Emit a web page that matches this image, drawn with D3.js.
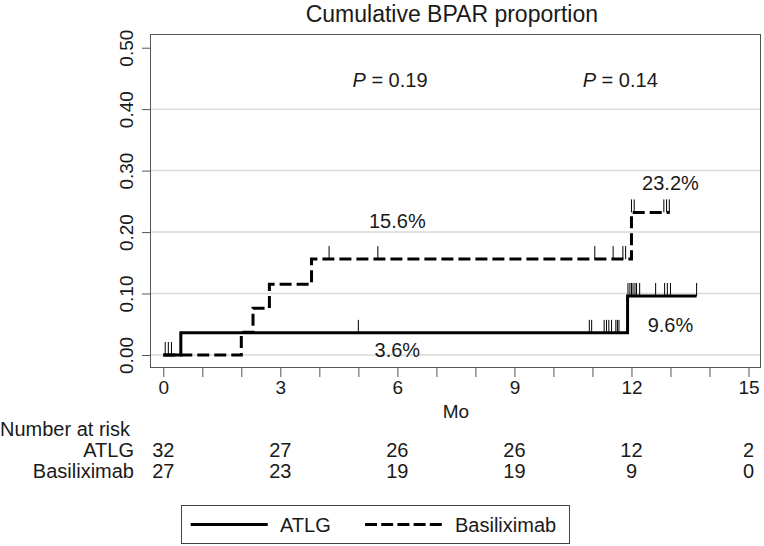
<!DOCTYPE html>
<html>
<head>
<meta charset="utf-8">
<script src="https://cdnjs.cloudflare.com/ajax/libs/d3/7.8.5/d3.min.js"></script>
<style>
body { margin: 0; background: #fff; }
svg text { font-family: "Liberation Sans", Arial, sans-serif; fill: #1a1a1a; }
</style>
</head>
<body>
<div id="chart"></div>
<script>
'use strict'

//Step curves (months, cumulative proportion)
var atlgTimes = [0, 0.45, 11.9, 13.67];
var atlgValues = [0, 0.036, 0.096, 0.096];
var basiTimes = [0, 2.0, 2.3, 2.72, 3.8, 12.0, 12.98];
var basiValues = [0, 0.037, 0.076, 0.115, 0.156, 0.232, 0.232];

//Censoring times (months)
var atlgCensored = [0.05, 0.13, 0.21, 5.0, 10.92, 10.98, 11.3, 11.36, 11.42, 11.49, 11.6, 11.64, 11.68,
    11.91, 11.96, 12.0, 12.04, 12.09, 12.13, 12.21, 12.62, 12.85, 12.92, 13.0, 13.67];
var basiCensored = [4.25, 5.5, 11.06, 11.53, 11.78, 11.85, 12.0, 12.07, 12.83, 12.9, 12.97];

var yTicks = [0, 0.1, 0.2, 0.3, 0.4, 0.5];
var xTicks = d3.range(0, 16);
var xLabelTicks = [0, 3, 6, 9, 12, 15];

//Number at risk table
var riskTimes = [0, 3, 6, 9, 12, 15];
var atlgAtRisk = [32, 27, 26, 26, 12, 2];
var basiAtRisk = [27, 23, 19, 19, 9, 0];

var groupNames = ["ATLG", "Basiliximab"];
var pValues = ["0.19", "0.14"];
var endLabels = ["3.6%", "15.6%", "9.6%", "23.2%"];

var width = 764, height = 546;

var svg = d3.select("#chart").append("svg")
    .attr("width", width)
    .attr("height", height);

var x = d3.scaleLinear().domain([-0.34, 15.32]).range([150, 761]);
var y = d3.scaleLinear().domain([-0.0212, 0.5223]).range([368, 34]);

//value of a step curve at time t
function stepValue(times, values, t) {
    var i = d3.bisectRight(times, t) - 1;
    return values[Math.max(i, 0)];
}

//grid lines
svg.append("g")
    .selectAll("line")
    .data(yTicks.slice(0, 5))
    .enter()
    .append("line")
    .attr("x1", x.range()[0])
    .attr("x2", x.range()[1])
    .attr("y1", function(d) { return y(d); })
    .attr("y2", function(d) { return y(d); })
    .attr("stroke", "#d9d9d9")
    .attr("stroke-width", 1.5);

//plot frame
svg.append("rect")
    .attr("x", 150.5)
    .attr("y", 34.5)
    .attr("width", 610)
    .attr("height", 333)
    .attr("fill", "none")
    .attr("stroke", "#555")
    .attr("stroke-width", 1);

//x axis
var xAxis = svg.append("g")
    .attr("transform", "translate(0,368)")
    .call(d3.axisBottom(x)
        .tickValues(xTicks)
        .tickSize(9)
        .tickSizeOuter(0)
        .tickPadding(4)
        .tickFormat(function(d) { return xLabelTicks.indexOf(d) >= 0 ? d : ""; }));
xAxis.select(".domain").remove();
xAxis.selectAll("line").attr("stroke", "#555");
xAxis.selectAll("text").attr("font-size", "19px").attr("font-family", null);

//y axis, rotated labels
var yAxis = svg.append("g")
    .attr("transform", "translate(150,0)")
    .call(d3.axisLeft(y)
        .tickValues(yTicks)
        .tickSize(8)
        .tickSizeOuter(0)
        .tickFormat(d3.format(".2f")));
yAxis.select(".domain").remove();
yAxis.selectAll("line").attr("stroke", "#555");
yAxis.selectAll("text")
    .attr("font-size", "19px")
    .attr("font-family", null)
    .attr("x", 0)
    .attr("y", -17)
    .attr("dy", 0)
    .attr("text-anchor", "middle")
    .attr("transform", "rotate(-90)");

//title and axis title
svg.append("text")
    .attr("x", 598)
    .attr("y", 22)
    .attr("text-anchor", "end")
    .attr("font-size", "23px")
    .text("Cumulative BPAR proportion");

svg.append("text")
    .attr("x", 456)
    .attr("y", 418)
    .attr("text-anchor", "middle")
    .attr("font-size", "19px")
    .text("Mo");

var stepLine = d3.line()
    .x(function(d) { return x(d[0]); })
    .y(function(d) { return y(d[1]); })
    .curve(d3.curveStepAfter);

//draw one group: step curve plus censor marks
function addCurve(times, values, censored, dash) {
    var g = svg.append("g");
    g.append("path")
        .datum(d3.zip(times, values))
        .attr("d", stepLine)
        .attr("fill", "none")
        .attr("stroke", "#000")
        .attr("stroke-width", 3)
        .attr("stroke-dasharray", dash);

    g.selectAll("line")
        .data(censored)
        .enter()
        .append("line")
        .attr("x1", function(d) { return x(d); })
        .attr("x2", function(d) { return x(d); })
        .attr("y1", function(d) { return y(stepValue(times, values, d)); })
        .attr("y2", function(d) { return y(stepValue(times, values, d)) - 13; })
        .attr("stroke", "#000")
        .attr("stroke-width", 1);
}

addCurve(basiTimes, basiValues, basiCensored, "12,5");
addCurve(atlgTimes, atlgValues, atlgCensored, null);

//P values
[[4.85, pValues[0]], [10.75, pValues[1]]].forEach(function(p) {
    var t = svg.append("text")
        .attr("x", x(p[0]))
        .attr("y", y(0.4355))
        .attr("font-size", "20px");
    t.append("tspan").attr("font-style", "italic").text("P");
    t.append("tspan").text(" = " + p[1]);
});

//end-of-curve percentages
var endPos = [[6, -0.0033], [6, 0.2066], [13, 0.0379], [13, 0.2685]];
svg.append("g")
    .selectAll("text")
    .data(endLabels)
    .enter()
    .append("text")
    .attr("x", function(d, i) { return x(endPos[i][0]); })
    .attr("y", function(d, i) { return y(endPos[i][1]); })
    .attr("text-anchor", "middle")
    .attr("font-size", "20px")
    .text(function(d) { return d; });

//number at risk table
svg.append("text")
    .attr("x", 0)
    .attr("y", 436)
    .attr("font-size", "20px")
    .text("Number at risk");

[atlgAtRisk, basiAtRisk].forEach(function(row, r) {
    var rowY = 457 + r * 20.5;
    svg.append("text")
        .attr("x", 134)
        .attr("y", rowY)
        .attr("text-anchor", "end")
        .attr("font-size", "20px")
        .text(groupNames[r]);
    svg.append("g")
        .selectAll("text")
        .data(row)
        .enter()
        .append("text")
        .attr("x", function(d, i) { return x(riskTimes[i]); })
        .attr("y", rowY)
        .attr("text-anchor", "middle")
        .attr("font-size", "20px")
        .text(function(d) { return d; });
});

//legend
var legend = svg.append("g");
legend.append("rect")
    .attr("x", 181.5)
    .attr("y", 505.5)
    .attr("width", 388)
    .attr("height", 38)
    .attr("fill", "none")
    .attr("stroke", "#444")
    .attr("stroke-width", 1);

[[190.7, 280, null], [365, 455, "12,4.2"]].forEach(function(item, i) {
    legend.append("line")
        .attr("x1", item[0])
        .attr("x2", item[0] + 77)
        .attr("y1", 524.5)
        .attr("y2", 524.5)
        .attr("stroke", "#000")
        .attr("stroke-width", 3)
        .attr("stroke-dasharray", item[2]);
    legend.append("text")
        .attr("x", item[1])
        .attr("y", 532)
        .attr("font-size", "20px")
        .text(groupNames[i]);
});
</script>
</body>
</html>
